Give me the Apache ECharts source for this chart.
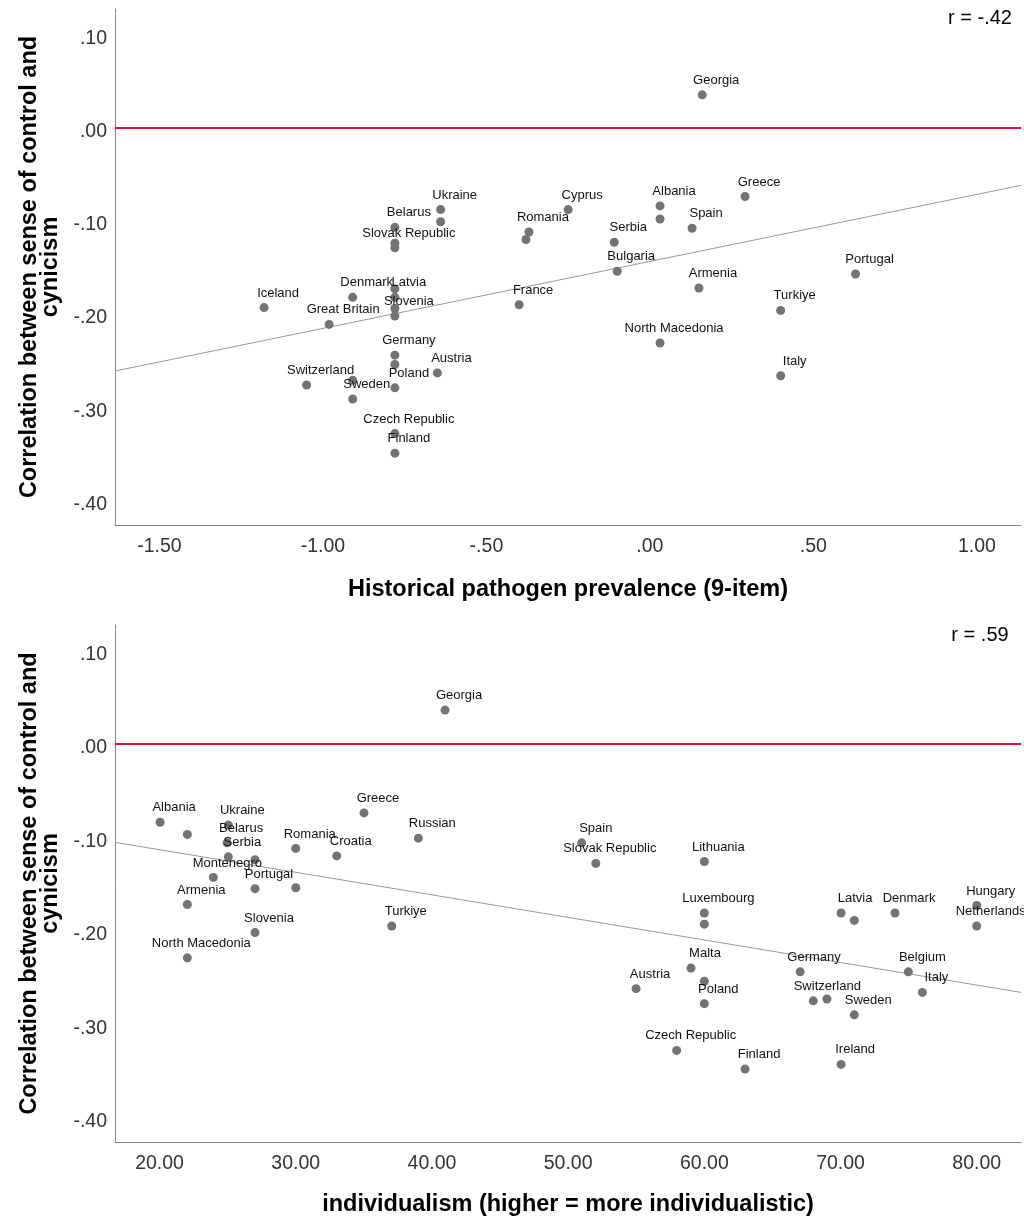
<!DOCTYPE html>
<html><head><meta charset="utf-8">
<script src="https://cdn.jsdelivr.net/npm/echarts@6/dist/echarts.min.js"></script>
<style>html,body{margin:0;padding:0;background:#fff}#c{width:1024px;height:1219px}</style>
</head><body><div id="c"></div>
<script>
// ---------- Top panel: historical pathogen prevalence ----------
const topNames = ['Georgia','Greece','Albania','','Ukraine','','Cyprus','Belarus','','Slovak Republic',
  'Spain','Romania','','Serbia','Bulgaria','Portugal','Armenia','','Latvia','','Slovenia','Denmark',
  'Iceland','France','Turkiye','Great Britain','North Macedonia','Germany','','Austria','Italy',
  'Switzerland','','Sweden','Poland','Czech Republic','Finland'];
const topX = [0.160,0.291,0.031,0.031,-0.640,-0.640,-0.250,-0.780,-0.780,-0.780,
  0.129,-0.370,-0.379,-0.109,-0.100,0.629,0.150,-0.780,-0.780,-0.780,-0.780,-0.909,
  -1.180,-0.400,0.400,-0.981,0.031,-0.780,-0.780,-0.650,0.400,
  -1.050,-0.909,-0.909,-0.780,-0.780,-0.780];
const topY = [0.035,-0.074,-0.084,-0.098,-0.088,-0.101,-0.088,-0.107,-0.124,-0.129,
  -0.108,-0.112,-0.120,-0.123,-0.154,-0.157,-0.172,-0.173,-0.182,-0.194,-0.202,-0.182,
  -0.193,-0.190,-0.196,-0.211,-0.231,-0.244,-0.254,-0.263,-0.266,
  -0.276,-0.271,-0.291,-0.279,-0.328,-0.349];
const topFitX = [-1.636, 1.135];
const topFitY = [-0.261, -0.062];
const topXTicks = [-1.5,-1.0,-0.5,0,0.5,1.0];
const topXRange = [-1.636, 1.135];
const topR = 'r = -.42';
const topXTitle = 'Historical pathogen prevalence (9-item)';

// ---------- Bottom panel: individualism ----------
const botNames = ['Georgia','Albania','','Ukraine','Belarus','Serbia','','Montenegro','Portugal','',
  'Romania','Greece','Russian','Croatia','Armenia','Slovenia','Turkiye','North Macedonia',
  'Spain','Slovak Republic','Lithuania','Luxembourg','','Latvia','','Denmark','Hungary','Netherlands',
  'Malta','Austria','','Poland','Germany','Belgium','Italy','Switzerland','','Sweden',
  'Czech Republic','Finland','Ireland'];
const botX = [40.96,20.04,22.04,25.05,24.96,25.05,27.01,23.95,27.01,30.0,
  30.0,35.01,39.0,33.01,22.04,27.01,37.05,22.04,
  51.0,52.03,60.0,60.0,60.0,70.04,71.01,74.0,80.0,80.0,
  59.02,54.99,60.0,60.0,67.03,74.98,76.01,68.0,69.0,71.01,
  57.97,62.99,70.04];
const botY = [0.036,-0.084,-0.097,-0.087,-0.106,-0.121,-0.124,-0.143,-0.155,-0.154,
  -0.112,-0.074,-0.101,-0.120,-0.172,-0.202,-0.195,-0.229,
  -0.106,-0.128,-0.126,-0.181,-0.193,-0.181,-0.189,-0.181,-0.173,-0.195,
  -0.240,-0.262,-0.254,-0.278,-0.244,-0.244,-0.266,-0.275,-0.273,-0.290,
  -0.328,-0.348,-0.343];
const botFitX = [16.73, 83.25];
const botFitY = [-0.1055, -0.266];
const botXTicks = [20,30,40,50,60,70,80];
const botXRange = [16.73, 83.25];
const botR = 'r = .59';
const botXTitle = 'individualism (higher = more individualistic)';

// ---------- shared ----------
const yTicks = [0.1,0,-0.1,-0.2,-0.3,-0.4];
const yRange = [-0.426, 0.127];
const yTitle = 'Correlation between sense of control and\ncynicism';

const FONT = '"Liberation Sans", Arial, sans-serif';
function fmtDot(v){ return Number(v).toFixed(2).replace(/^(-?)0\./,'$1.'); }
function fmtFix(v){ return Number(v).toFixed(2); }

function pts(names, xs, ys){
  return xs.map((x,i)=>({name:names[i], value:[x, ys[i]]}));
}

const axisLineStyle = {show:true, onZero:false, lineStyle:{color:'#8a8a8a', width:1}};

function xAxis(gi, range, ticks, fmt, title, gap){
  return {type:'value', gridIndex:gi, min:range[0], max:range[1],
    axisLine:axisLineStyle, axisTick:{show:false}, splitLine:{show:false},
    axisLabel:{customValues:ticks, formatter:fmt, color:'#333', fontSize:19.5, fontFamily:FONT, margin:12},
    name:title, nameLocation:'middle', nameGap:gap,
    nameTextStyle:{color:'#000', fontSize:23.5, fontWeight:'bold', fontFamily:FONT}};
}
function yAxis(gi){
  return {type:'value', gridIndex:gi, min:yRange[0], max:yRange[1],
    axisLine:axisLineStyle, axisTick:{show:false}, splitLine:{show:false},
    axisLabel:{customValues:yTicks, formatter:fmtDot, color:'#333', fontSize:19.5, fontFamily:FONT, margin:8,
      verticalAlign:'top', lineHeight:8},
    name:yTitle, nameLocation:'middle', nameGap:54, nameRotate:90,
    nameTextStyle:{color:'#000', fontSize:23.5, fontWeight:'bold', fontFamily:FONT, lineHeight:21, align:'center'}};
}

function scatter(gi, data){
  return {type:'scatter', xAxisIndex:gi, yAxisIndex:gi, data:data, symbolSize:9, z:5,
    itemStyle:{color:'#737373', opacity:1},
    label:{show:true, formatter:p=>p.name, position:'inside', offset:[14,-14.5],
      color:'#111', fontSize:13, fontFamily:FONT, textBorderWidth:0},
    emphasis:{disabled:true},
    markLine:{silent:true, symbol:'none', label:{show:false}, animation:false,
      lineStyle:{color:'#d3123f', width:2, type:'solid'}, data:[{yAxis:0}]}};
}
function fit(gi, xs, ys){
  return {type:'line', xAxisIndex:gi, yAxisIndex:gi, data:xs.map((x,i)=>[x,ys[i]]),
    symbol:'none', z:2, lineStyle:{color:'#9a9a9a', width:1}, emphasis:{disabled:true}};
}

const chart = echarts.init(document.getElementById('c'), null, {renderer:'canvas'});
chart.setOption({
  animation:false,
  backgroundColor:'#fff',
  grid:[
    {left:115, top:9, width:906, height:516},
    {left:115, top:625, width:906, height:517}
  ],
  xAxis:[
    xAxis(0, topXRange, topXTicks, fmtDot, topXTitle, 53),
    xAxis(1, botXRange, botXTicks, fmtFix, botXTitle, 51)
  ],
  yAxis:[yAxis(0), yAxis(1)],
  graphic:[
    {type:'text', x:980, y:18, style:{text:topR, font:'20px '+FONT, fill:'#000', textAlign:'center', textVerticalAlign:'middle'}},
    {type:'text', x:980, y:635, style:{text:botR, font:'20px '+FONT, fill:'#000', textAlign:'center', textVerticalAlign:'middle'}}
  ],
  series:[
    fit(0, topFitX, topFitY),
    scatter(0, pts(topNames, topX, topY)),
    fit(1, botFitX, botFitY),
    scatter(1, pts(botNames, botX, botY))
  ]
});
</script>
</body></html>
